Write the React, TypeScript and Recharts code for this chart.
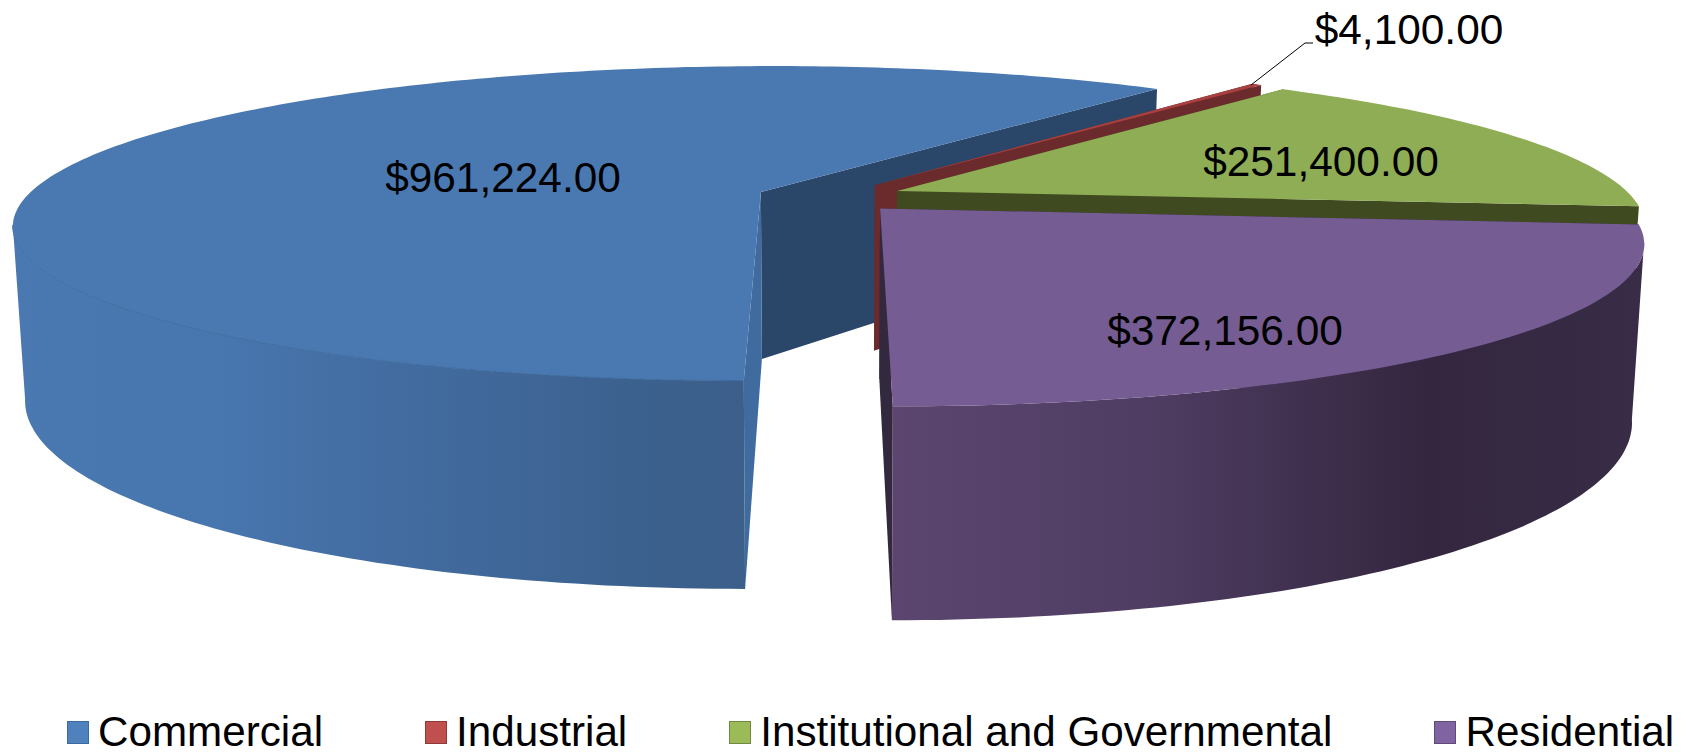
import { PieChart, Pie, Legend } from 'recharts'

const categories = ['Commercial', 'Industrial', 'Institutional and Governmental', 'Residential']
const amounts = [961224, 4100, 251400, 372156]

// colours per slice
const topFills = ['#4A79B2', '#A8403F', '#8FAD55', '#755C92']
const legendFills = ['#4F81BD', '#C0504D', '#9BBB59', '#8064A2']
const legendBorders = ['#3A6A9F', '#8E3A38', '#6F8A3E', '#5F4A7A']
const farWalls = ['#2A4669', '#6B2A2C', '#404A20', '#33293F']
const nearWalls = ['#3F6B9F', '#6B2A2C', '#404A20', '#33293F']
const rimStrokes = ['#3F6C9F', 'none', 'none', 'none']
const wallGradients: ([number, string][] | null)[] = [
  [[0, '#4A79B2'], [0.3, '#4775AD'], [0.55, '#426B9F'], [0.85, '#3B618E'], [1, '#3C5F8A']],
  null,
  null,
  [[0, '#5C4670'], [0.35, '#4F3D63'], [0.72, '#34263F'], [1, '#382C46']],
]
const gradientRanges = [[13, 745], [0, 0], [0, 0], [880, 1640]]

// label centres in page pixels
const labelSpots = [[503, 177], [1409, 29], [1321, 161], [1225, 330]]
const leaderLine = '1313,43 1305,43 1251,85'

const pieCx = 830
const pieCy = 197
const radius = 735
const flatten = 153 / 735
const perspective = 0.2
const explode = 0.1
const depth = 168
const bottomShrink = 0.985

const money = (v: number) => '$' + v.toLocaleString('en-US', { minimumFractionDigits: 2, maximumFractionDigits: 2 })

const tableData = categories.map((name, i) => ({ name, value: amounts[i], fill: legendFills[i] }))

// x right, f towards the viewer, both in units of the radius
function top(x: number, f: number) {
  const w = 1 - perspective * f
  return [pieCx + (radius * x) / w, pieCy + (radius * flatten * f) / w]
}
function bottom(x: number, f: number) {
  const w = 1 - perspective * f
  const p = top(x, f)
  return [pieCx + (p[0] - pieCx) * bottomShrink, p[1] + depth / w]
}
const toLine = (pts: number[][]) => 'M' + pts.map((p) => p[0].toFixed(1) + ' ' + p[1].toFixed(1)).join('L')
const path = (pts: number[][]) => toLine(pts) + 'Z'

function Slice3D(props: any) {
  const { startAngle, endAngle, index } = props
  const i = index ?? categories.indexOf(props.name)
  const mid = (((startAngle + endAngle) / 2) * Math.PI) / 180
  const ex = explode * Math.cos(mid)
  const ef = -explode * Math.sin(mid)

  const steps = Math.max(2, Math.ceil(Math.abs(endAngle - startAngle)))
  const rim: { x: number; f: number; n: number }[] = []
  for (let s = 0; s <= steps; s++) {
    const a = ((startAngle + ((endAngle - startAngle) * s) / steps) * Math.PI) / 180
    rim.push({ x: ex + Math.cos(a), f: ef - Math.sin(a), n: -Math.sin(a) })
  }
  const first = rim[0]
  const last = rim[rim.length - 1]
  const far = first.f < last.f ? first : last
  const near = first.f < last.f ? last : first
  const quad = (e: { x: number; f: number }) => path([top(ex, ef), top(e.x, e.f), bottom(e.x, e.f), bottom(ex, ef)])

  const front = rim.filter((r) => r.n > perspective)
  const topPts = [top(ex, ef), ...rim.map((r) => top(r.x, r.f))]
  const grad = wallGradients[i]
  const gradId = 'wall-' + i

  return (
    <g>
      {grad && (
        <defs>
          <linearGradient id={gradId} gradientUnits="userSpaceOnUse" x1={gradientRanges[i][0]} x2={gradientRanges[i][1]} y1={0} y2={0}>
            {grad.map(([o, c]) => (
              <stop key={o} offset={o} stopColor={c} />
            ))}
          </linearGradient>
        </defs>
      )}
      <path d={quad(far)} fill={farWalls[i]} />
      <path d={quad(near)} fill={nearWalls[i]} />
      {front.length > 1 && (
        <path
          d={path([...front.map((r) => top(r.x, r.f)), ...front.slice().reverse().map((r) => bottom(r.x, r.f))])}
          fill={grad ? `url(#${gradId})` : farWalls[i]}
        />
      )}
      <path d={path(topPts)} fill={topFills[i]} />
      {front.length > 1 && (
        <path d={toLine(front.map((r) => top(r.x, r.f)))} fill="none" stroke={rimStrokes[i]} strokeWidth={1} />
      )}
    </g>
  )
}

function renderLabel(props: any) {
  const i = props.index
  return (
    <text
      x={labelSpots[i][0]}
      y={labelSpots[i][1]}
      textAnchor="middle"
      dominantBaseline="central"
      fontFamily="Liberation Sans"
      fontSize={42.4}
      fill="#000"
    >
      {money(props.value)}
    </text>
  )
}

function renderLeader(props: any) {
  if (props.index !== 1) return <g />
  return <polyline points={leaderLine} fill="none" stroke="#000" strokeWidth={1} />
}

function LegendRow() {
  return (
    <div style={{ display: 'flex', fontFamily: 'Liberation Sans', fontSize: 42.2, lineHeight: '48px', color: '#000', whiteSpace: 'nowrap' }}>
      {categories.map((c, i) => (
        <div key={c} style={{ display: 'flex', alignItems: 'center', marginRight: i < 3 ? 102 : 0 }}>
          <span style={{ width: 20, height: 21, background: legendFills[i], border: '1px solid ' + legendBorders[i], marginRight: 9 }} />
          {c}
        </div>
      ))}
    </div>
  )
}

export default function App() {
  return (
    <div style={{ position: 'absolute', left: 0, top: 0, width: 1690, height: 755, overflow: 'hidden' }}>
      <PieChart width={1690} height={755} margin={{ top: 0, right: 0, bottom: 0, left: 0 }}>
        <Pie
          data={tableData}
          dataKey="value"
          nameKey="name"
          cx={pieCx}
          cy={pieCy}
          innerRadius={0}
          outerRadius={radius}
          startAngle={-90}
          endAngle={-450}
          stroke="none"
          isAnimationActive={false}
          shape={Slice3D}
          label={renderLabel}
          labelLine={renderLeader}
        />
        <Legend content={<LegendRow />} wrapperStyle={{ position: 'absolute', left: 67, top: 708, width: 1620 }} />
      </PieChart>
    </div>
  )
}
